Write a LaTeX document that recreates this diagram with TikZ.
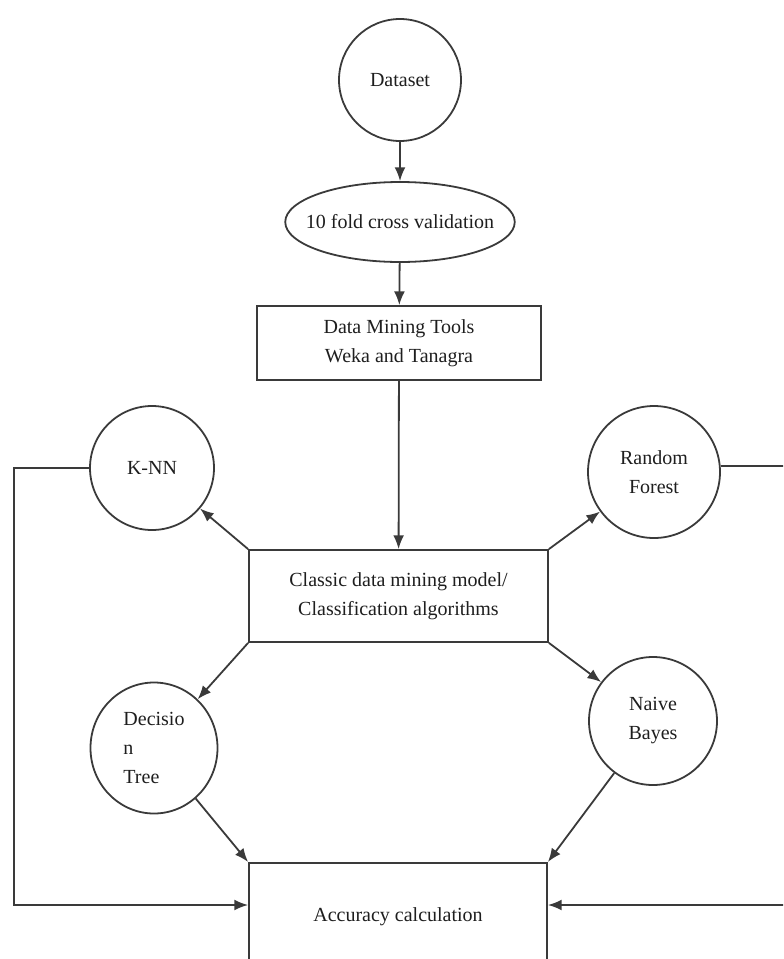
\documentclass[tikz,border=0pt]{standalone}
\usepackage{fontspec}
\setmainfont{Liberation Serif}
\usepackage{tikz}
\usetikzlibrary{arrows.meta,positioning,shapes.geometric,calc}
\definecolor{ink}{RGB}{58,58,58}
\definecolor{txt}{RGB}{30,30,30}
\tikzset{
  >={Latex[length=2.4mm,width=1.9mm]},
  proc/.style={draw=ink,line width=0.9pt,align=center,text=txt,
    font=\fontsize{10}{14.5}\selectfont,inner sep=0pt},
  algo/.style={circle,draw=ink,line width=0.9pt,minimum size=#1,inner sep=0pt,
    align=center,text=txt,font=\fontsize{10}{14.5}\selectfont},
  algo/.default=62pt,
  oval/.style={ellipse,draw=ink,line width=0.9pt,inner sep=0pt,
    align=center,text=txt,font=\fontsize{10}{14.5}\selectfont},
  flow/.style={->,line width=0.9pt,draw=ink},
}

\begin{document}
\begin{tikzpicture}[x=0.5pt,y=-0.5pt]
    \useasboundingbox (0,0) rectangle (783,959);
    \clip (0,0) rectangle (783,959);
    % main chain
    \node[algo=61pt] (data) at (400,80) {Dataset};
    \node[oval,inner xsep=-6.5pt,minimum height=40pt] (cv) at (400,222) {10 fold cross validation};
    \node[proc,minimum width=142pt,minimum height=37pt] (tools) at (399,343) {Data Mining Tools\\Weka and Tanagra};
    \node[proc,minimum width=149.5pt,minimum height=46pt] (classic) at (398.5,596) {Classic data mining model/\\Classification algorithms};
    \node[proc,minimum width=149pt,minimum height=54pt,anchor=north] (acc) at (398,862) {Accuracy calculation};
    % classifiers
    \node[algo] (knn) at (152,468) {K-NN};
    \node[algo=66pt] (rf) at (654,472) {Random\\Forest};
    \node[oval,minimum width=63.5pt,minimum height=65.5pt,align=left] (dt) at (154,748) {Decisio\\n\\Tree};
    \node[algo=64pt] (nb) at (653,721) {Naive\\Bayes};
    \coordinate (kl) at (14,905);
    \coordinate (kr) at (792,905);
    \draw[flow] (data) -- (cv);
    \draw[flow] (cv) -- (tools);
    \draw[flow] (tools) -- (classic);
    \foreach \c/\n in {north west/knn,north east/rf,south west/dt,south east/nb}
      \draw[flow] (classic.\c) -- (\n);
    \draw[flow] (dt) -- (acc.north west);
    \draw[flow] (nb) -- (acc.north east);
    \draw[flow] (knn.west) -| (kl) -- (kl -| acc.west);
    \draw[flow] (rf.5) -| (kr) -- (kr -| acc.east);
  \end{tikzpicture}
\end{document}
